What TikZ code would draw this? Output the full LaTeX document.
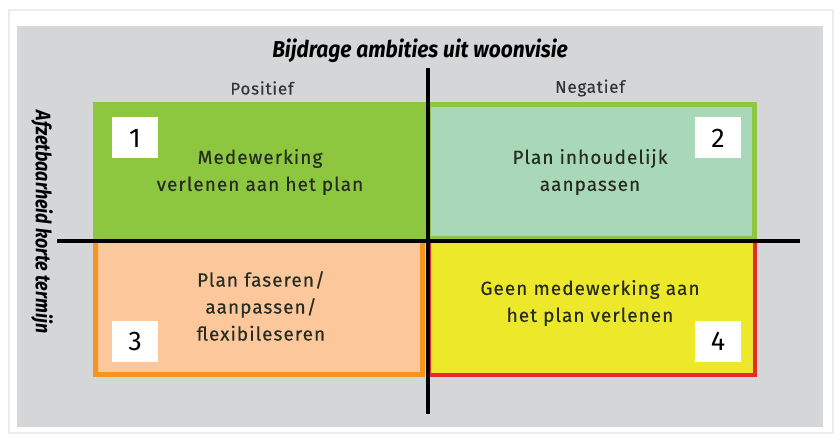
\documentclass[tikz,border=0pt]{standalone}
\usepackage{fontspec}
\setmainfont{Fira Sans}
\definecolor{panel}{HTML}{D5D6D8}
\definecolor{frameline}{HTML}{ECECEC}
\definecolor{qgreen}{HTML}{8DC63F}
\definecolor{qmint}{HTML}{A9D8B8}
\definecolor{qpeach}{HTML}{FCC89B}
\definecolor{qorange}{HTML}{F7941D}
\definecolor{qyellow}{HTML}{EEE82B}
\definecolor{qred}{HTML}{E52A2A}
\definecolor{txt}{HTML}{262C22}
\definecolor{headtxt}{HTML}{333333}
\begin{document}
\begin{tikzpicture}[x=1pt,y=-1pt,
  quadtext/.style={text=txt, align=center, inner sep=0pt,
    font=\fontsize{19}{27}\selectfont\addfontfeature{LetterSpace=5.5,FakeBold=0.35}},
  numbox/.style={fill=white, minimum width=46pt, minimum height=41pt,
    inner sep=0pt, text=black, font=\fontsize{27}{27}\selectfont},
  headlabel/.style={text=headtxt, inner sep=0pt,
    font=\fontsize{17}{17}\selectfont\addfontfeature{LetterSpace=4.5,FakeBold=0.2}},
  axislabel/.style={text=black, inner sep=0pt, font=\bfseries\itshape},
  axisline/.style={line width=4.5pt, black}]
\useasboundingbox (0,0) rectangle (840,438);
% page and grey panel
\fill[white] (0,0) rectangle (840,438);
\draw[frameline, line width=1.5pt] (9,10) rectangle (833,433);
\fill[panel] (17,26) rectangle (823,427);

% quadrant 1
\fill[qgreen] (93,102) rectangle (428,240);
% quadrant 2
\fill[qgreen] (428,102) rectangle (757,240);
\fill[qmint] (431,107) rectangle (752,236);
% quadrant 3
\fill[qorange] (93,242) rectangle (425,377);
\fill[qpeach] (98,243) rectangle (420,372);
% quadrant 4
\fill[qred] (429,242) rectangle (757,377);
\fill[qyellow] (431,243) rectangle (753,373);

% axes
\coordinate (vtop) at (428,68);
\coordinate (vbot) at (428,414);
\coordinate (hleft) at (57,241);
\coordinate (hright) at (800,241);
\draw[axisline] (vtop) -- (vbot);
\draw[axisline] (hleft) -- (hright);

% axis titles
\node[axislabel, font=\fontsize{23}{23}\selectfont\bfseries\itshape] (xtitle) at (420,51)
  {\scalebox{0.91}[1]{Bijdrage ambities uit woonvisie}};
\node[axislabel, font=\fontsize{21}{21}\selectfont\bfseries\itshape, rotate=-90] (ytitle) at (42,222)
  {\scalebox{0.85}[1]{Afzetbaarheid korte termijn}};
\node[headlabel] (pos) at (262,88) {Positief};
\node[headlabel] (neg) at (590,88) {Negatief};

% quadrant texts
\node[quadtext] (t1) at (260,172) {Medewerking\\verlenen aan het plan};
\node[quadtext] (t2) at (590,172) {Plan inhoudelijk\\aanpassen};
\node[quadtext] (t3) at (261,306) {Plan faseren/\\aanpassen/\\flexibileseren};
\node[quadtext] (t4) at (590,303) {Geen medewerking aan\\het plan verlenen};

% quadrant numbers
\node[numbox] (n1) at (135,138) {1};
\node[numbox] (n2) at (718,138) {2};
\node[numbox] (n3) at (135,341.5) {3};
\node[numbox] (n4) at (718,341.5) {4};
\end{tikzpicture}
\end{document}
